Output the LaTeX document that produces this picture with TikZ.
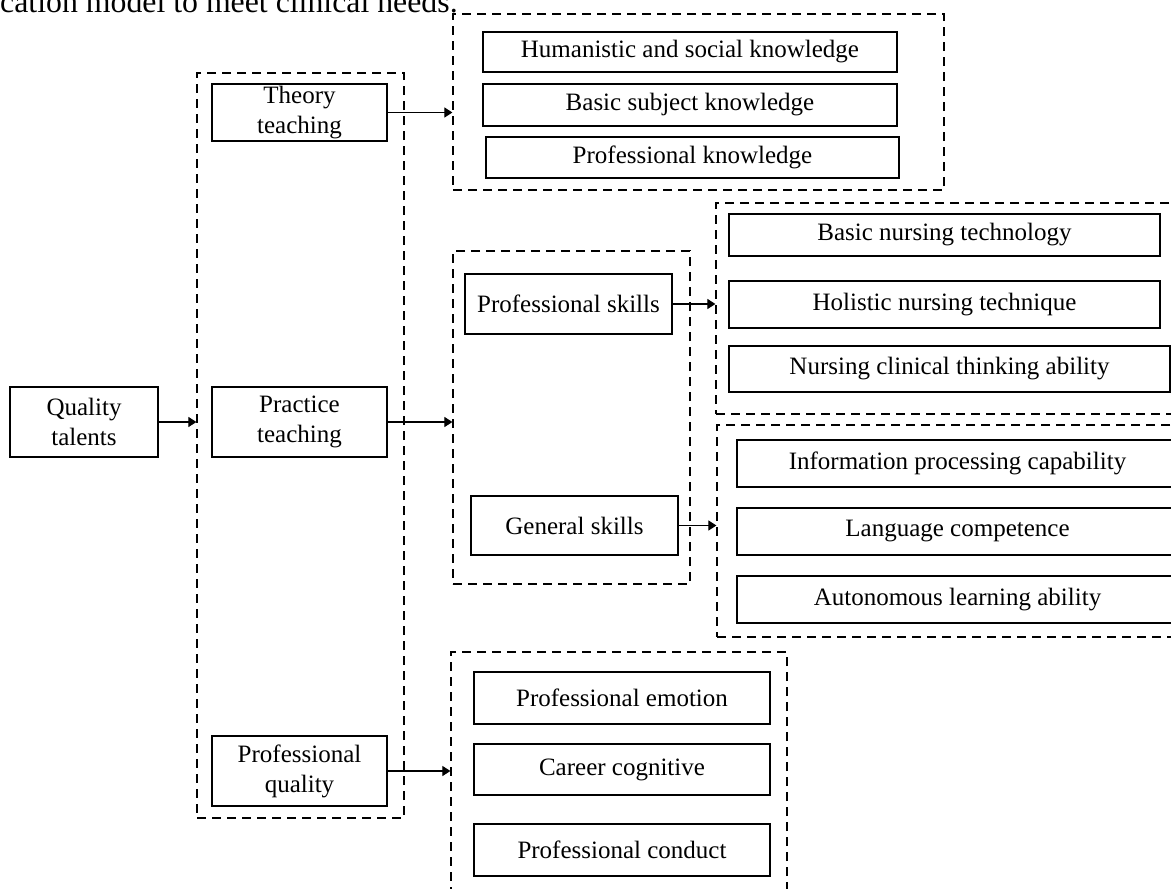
\documentclass[tikz,border=0pt]{standalone}
\usepackage{fontspec}
\setmainfont{Liberation Serif}
\usetikzlibrary{arrows.meta}
\tikzset{
  box/.style={draw, line width=1.2pt, inner sep=0pt, align=center, font=\fontsize{25}{30}\selectfont},
  grp/.style={draw, line width=1.2pt, dash pattern=on 9pt off 6pt, inner sep=0pt},
  arr/.style={line width=1.1pt, -{Triangle[length=8pt,width=10pt]}}
}
\newcommand{\bx}[6]{\node[#1, minimum width=#4pt, minimum height=#5pt] (#2) at #3 {#6};}
\begin{document}
\begin{tikzpicture}[x=1pt,y=-1pt]
\useasboundingbox (0,0) rectangle (1171,889);
\node[anchor=base west, inner sep=0pt, font=\fontsize{31.8}{38}\selectfont] (cap) at (0,12) {cation model to meet clinical needs.};
% dashed groups
\bx{grp}{col}{(300.5,445.5)}{207}{745}{}
\bx{grp}{g1}{(698.5,102)}{491}{176}{}
\bx{grp}{g2}{(571.5,417.5)}{237}{333}{}
\bx{grp}{g3}{(949,308.5)}{466}{211}{}
\bx{grp}{g4}{(953.5,531)}{473}{212}{}
\bx{grp}{g5}{(619,776)}{336}{248}{}
% boxes
\bx{box}{qt}{(84,422)}{148}{70}{Quality\\talents}
\bx{box}{tt}{(299.5,112.5)}{175}{57}{Theory\\teaching}
\bx{box}{pt}{(299.5,422)}{175}{70}{Practice\\teaching}
\bx{box}{pq}{(299.5,771)}{175}{70}{Professional\\quality}
\bx{box}{h1}{(690,52)}{414}{40}{Humanistic and social knowledge}
\bx{box}{h2}{(690,105)}{414}{42}{Basic subject knowledge}
\bx{box}{h3}{(692.5,157.5)}{413}{41}{Professional knowledge}
\bx{box}{ps}{(568.5,304)}{207}{60}{Professional skills}
\bx{box}{gs}{(574.5,525.5)}{207}{59}{General skills}
\bx{box}{b1}{(944.5,235)}{431}{42}{Basic nursing technology}
\bx{box}{b2}{(944.5,304.5)}{431}{47}{Holistic nursing technique}
\bx{box}{b3}{(949.5,369)}{441}{46}{Nursing clinical thinking ability}
\bx{box}{c1}{(957.5,463.5)}{441}{47}{Information processing capability}
\bx{box}{c2}{(957.5,531.5)}{441}{47}{Language competence}
\bx{box}{c3}{(957.5,599.5)}{441}{47}{Autonomous learning ability}
\bx{box}{d1}{(622,698)}{296}{52}{Professional emotion}
\bx{box}{d2}{(622,769.5)}{296}{51}{Career cognitive}
\bx{box}{d3}{(622,850)}{296}{52}{Professional conduct}
% arrows
\draw[arr] (qt.east) -- (qt.east -| col.west);
\draw[arr] (tt.east) -- (tt.east -| g1.west);
\draw[arr] (pt.east) -- (pt.east -| g2.west);
\draw[arr] (pq.east) -- (pq.east -| g5.west);
\draw[arr] (ps.east) -- (ps.east -| g3.west);
\draw[arr] (gs.east) -- (gs.east -| g4.west);
\end{tikzpicture}
\end{document}
